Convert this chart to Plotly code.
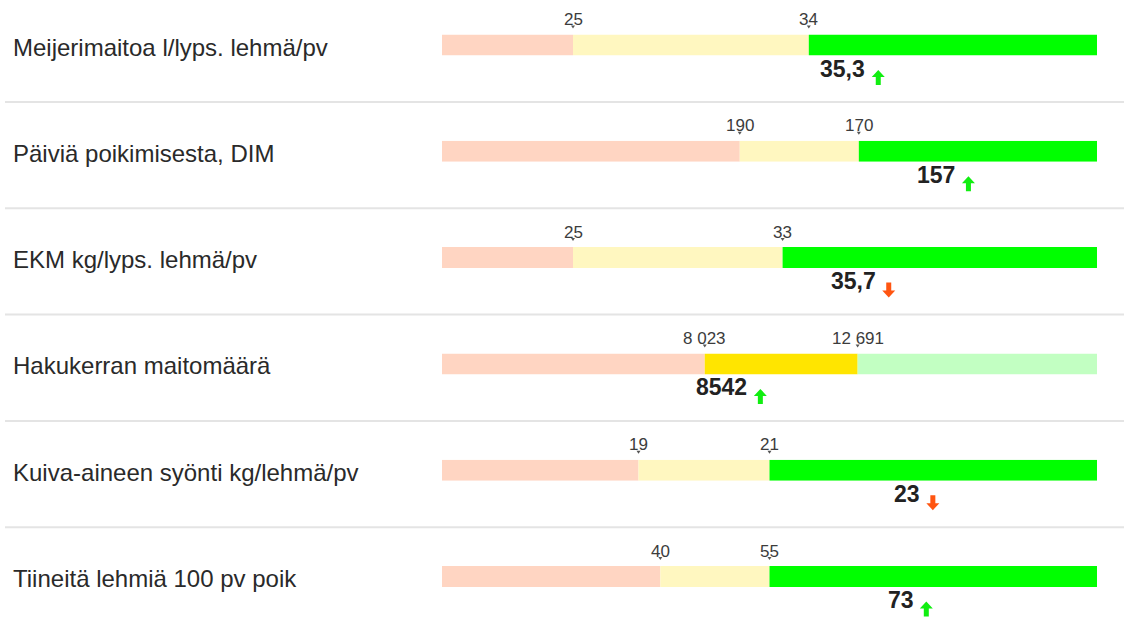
import plotly.graph_objects as go

# ---- data ----
labels = [
    "Meijerimaitoa l/lyps. lehmä/pv",
    "Päiviä poikimisesta, DIM",
    "EKM kg/lyps. lehmä/pv",
    "Hakukerran maitomäärä",
    "Kuiva-aineen syönti kg/lehmä/pv",
    "Tiineitä lehmiä 100 pv poik",
]
axis_start = [20, 240, 20, 0, 16, 10]
axis_end = [45, 130, 45, 20000, 26, 100]
low_thr = [25, 190, 25, 8023, 19, 40]
high_thr = [34, 170, 33, 12691, 21, 55]
low_text = ["25", "190", "25", "8\u00a0023", "19", "40"]
high_text = ["34", "170", "33", "12\u00a0691", "21", "55"]
values = [35.3, 157, 35.7, 8542, 23.1, 73]
value_text = ["35,3", "157", "35,7", "8542", "23", "73"]
trend = ["up", "up", "down", "up", "down", "up"]

# ---- style ----
W, H = 1124, 629
BAR_L, BAR_R = 442, 1097
BAR_TOP0, ROW_STEP, BAR_H = 34.5, 106.3, 21
SEG_NORMAL = ["#FFD5C2", "#FFF7C0", "#C2FFC2"]
SEG_HIGHLIGHT = ["#FFD5C2", "#FFE500", "#00FF00"]
UP_COLOR, DOWN_COLOR = "#11EE11", "#FF5511"
FONT = "Liberation Sans, Arial, sans-serif"

fig = go.Figure()
shapes = []
annotations = []

def ppx(v):
    return v / W

def ppy(v):
    return 1 - v / H

for i in range(len(labels)):
    n = i + 1
    xa = "x" if n == 1 else f"x{n}"
    ya = "y" if n == 1 else f"y{n}"
    top = BAR_TOP0 + ROW_STEP * i
    bottom = top + BAR_H
    fig.update_layout(**{
        f"xaxis{'' if n == 1 else n}": dict(
            domain=[ppx(BAR_L), ppx(BAR_R)],
            range=[axis_start[i], axis_end[i]],
            visible=False, fixedrange=True, anchor=ya,
        ),
        f"yaxis{'' if n == 1 else n}": dict(
            domain=[ppy(bottom), ppy(top)],
            range=[0, 1], visible=False, fixedrange=True, anchor=xa,
        ),
    })
    edges = [axis_start[i], low_thr[i], high_thr[i], axis_end[i]]
    for s in range(3):
        a, b = edges[s], edges[s + 1]
        lo, hi = min(a, b), max(a, b)
        inside = lo <= values[i] <= hi
        color = SEG_HIGHLIGHT[s] if inside else SEG_NORMAL[s]
        fig.add_trace(go.Bar(
            orientation="h", y=[0.5], x=[hi - lo], base=[lo], width=1,
            marker=dict(color=color, line=dict(width=0)),
            xaxis=xa, yaxis=ya, showlegend=False, hoverinfo="skip",
        ))
    # threshold labels and tick marks
    for t, txt in [(low_thr[i], low_text[i]), (high_thr[i], high_text[i])]:
        annotations.append(dict(
            x=t, xref=xa, y=1, yref=f"{ya} domain", yanchor="middle",
            yshift=15, text=txt, showarrow=False,
            font=dict(family=FONT, size=17, color="#3c3c3c"),
        ))
        shapes.append(dict(
            type="path", xref=xa, yref=f"{ya} domain",
            xsizemode="pixel", ysizemode="pixel", xanchor=t, yanchor=1,
            path="M -2 9 L 2 9 L 0 6 Z",
            fillcolor="#555555", line=dict(width=0),
        ))
    # value label
    annotations.append(dict(
        x=values[i], xref=xa, y=0, yref=f"{ya} domain", yanchor="middle",
        yshift=-13, text=f"<b>{value_text[i]}</b>", showarrow=False,
        font=dict(family=FONT, size=23, color="#222222"),
    ))
    # trend arrow
    tw = sum(6.4 if c in ",." else 12.8 for c in value_text[i])
    dx = tw / 2 + 13
    cy = -22
    if trend[i] == "up":
        pts = [(0, 7.5), (6.5, 0.5), (2.5, 0.5), (2.5, -7.5), (-2.5, -7.5), (-2.5, 0.5), (-6.5, 0.5)]
        col = UP_COLOR
    else:
        pts = [(0, -7.5), (6.5, -0.5), (2.5, -0.5), (2.5, 7.5), (-2.5, 7.5), (-2.5, -0.5), (-6.5, -0.5)]
        col = DOWN_COLOR
    path = "M " + " L ".join(f"{px + dx:.1f} {py + cy:.1f}" for px, py in pts) + " Z"
    shapes.append(dict(
        type="path", xref=xa, yref=f"{ya} domain",
        xsizemode="pixel", ysizemode="pixel", xanchor=values[i], yanchor=0,
        path=path, fillcolor=col, line=dict(width=0),
    ))
    # row label
    annotations.append(dict(
        x=ppx(11), xref="paper", xanchor="left",
        y=ppy(top + BAR_H / 2 + 2), yref="paper", yanchor="middle",
        text=labels[i], showarrow=False,
        font=dict(family=FONT, size=24, color="#2a2a2a"),
    ))
    # separator
    if i < len(labels) - 1:
        sy = top + BAR_H + 46.5
        shapes.append(dict(
            type="line", xref="paper", yref="paper",
            x0=ppx(5), x1=1, y0=ppy(sy), y1=ppy(sy),
            line=dict(color="#E4E4E4", width=2),
        ))

fig.update_layout(
    width=W, height=H, margin=dict(l=0, r=0, t=0, b=0),
    paper_bgcolor="white", plot_bgcolor="white",
    barmode="overlay", shapes=shapes, annotations=annotations,
    showlegend=False,
)
fig.write_html(
    "out.html",
    config={"displayModeBar": False},
    post_script="document.body.style.margin='0';document.body.style.overflow='hidden';",
)
